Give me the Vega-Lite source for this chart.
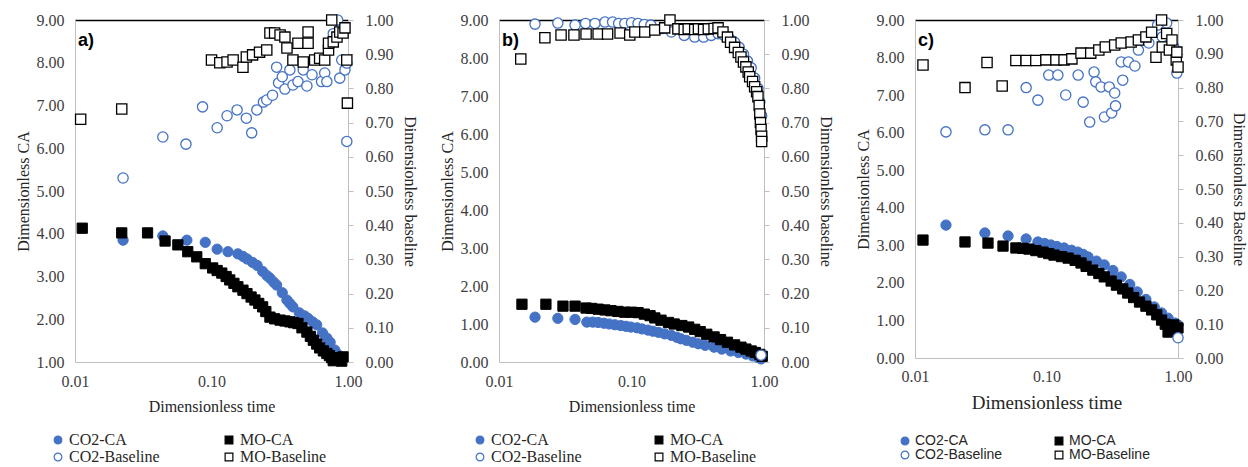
{
  "$schema": "https://vega.github.io/schema/vega-lite/v6.json",
  "background": "white",
  "padding": {"left": 15, "top": 12, "right": 2, "bottom": 0},
  "spacing": 22,
  "datasets": {
    "pts": [
      {"panel":"a","series":"CO2-CA","t":0.0225,"v":3.85},{"panel":"a","series":"CO2-CA","t":0.044,"v":3.95},{"panel":"a","series":"CO2-CA","t":0.066,"v":3.85},{"panel":"a","series":"CO2-CA","t":0.09,"v":3.8},{"panel":"a","series":"CO2-CA","t":0.11,"v":3.64},{"panel":"a","series":"CO2-CA","t":0.132,"v":3.58},{"panel":"a","series":"CO2-CA","t":0.156,"v":3.53},{"panel":"a","series":"CO2-CA","t":0.17,"v":3.47},{"panel":"a","series":"CO2-CA","t":0.182,"v":3.41},{"panel":"a","series":"CO2-CA","t":0.2,"v":3.33},{"panel":"a","series":"CO2-CA","t":0.216,"v":3.26},{"panel":"a","series":"CO2-CA","t":0.237,"v":3.12},{"panel":"a","series":"CO2-CA","t":0.255,"v":3.02},{"panel":"a","series":"CO2-CA","t":0.268,"v":2.96},{"panel":"a","series":"CO2-CA","t":0.285,"v":2.87},{"panel":"a","series":"CO2-CA","t":0.3,"v":2.8},{"panel":"a","series":"CO2-CA","t":0.33,"v":2.62},{"panel":"a","series":"CO2-CA","t":0.357,"v":2.45},{"panel":"a","series":"CO2-CA","t":0.375,"v":2.37},{"panel":"a","series":"CO2-CA","t":0.395,"v":2.29},{"panel":"a","series":"CO2-CA","t":0.44,"v":2.15},{"panel":"a","series":"CO2-CA","t":0.48,"v":2.08},{"panel":"a","series":"CO2-CA","t":0.51,"v":2.02},{"panel":"a","series":"CO2-CA","t":0.55,"v":1.94},{"panel":"a","series":"CO2-CA","t":0.59,"v":1.87},{"panel":"a","series":"CO2-CA","t":0.65,"v":1.68},{"panel":"a","series":"CO2-CA","t":0.7,"v":1.56},{"panel":"a","series":"CO2-CA","t":0.74,"v":1.46},{"panel":"a","series":"CO2-CA","t":0.8,"v":1.28},{"panel":"a","series":"CO2-CA","t":0.84,"v":1.18},{"panel":"a","series":"CO2-CA","t":0.87,"v":1.12},{"panel":"a","series":"CO2-CA","t":0.9,"v":1.06},
      {"panel":"a","series":"MO-CA","t":0.0113,"v":4.13},{"panel":"a","series":"MO-CA","t":0.022,"v":4.02},{"panel":"a","series":"MO-CA","t":0.034,"v":4.02},{"panel":"a","series":"MO-CA","t":0.0457,"v":3.83},{"panel":"a","series":"MO-CA","t":0.0567,"v":3.74},{"panel":"a","series":"MO-CA","t":0.067,"v":3.58},{"panel":"a","series":"MO-CA","t":0.078,"v":3.46},{"panel":"a","series":"MO-CA","t":0.09,"v":3.3},{"panel":"a","series":"MO-CA","t":0.102,"v":3.2},{"panel":"a","series":"MO-CA","t":0.11,"v":3.14},{"panel":"a","series":"MO-CA","t":0.119,"v":3.08},{"panel":"a","series":"MO-CA","t":0.128,"v":3.0},{"panel":"a","series":"MO-CA","t":0.136,"v":2.92},{"panel":"a","series":"MO-CA","t":0.146,"v":2.84},{"panel":"a","series":"MO-CA","t":0.156,"v":2.76},{"panel":"a","series":"MO-CA","t":0.17,"v":2.68},{"panel":"a","series":"MO-CA","t":0.182,"v":2.6},{"panel":"a","series":"MO-CA","t":0.195,"v":2.52},{"panel":"a","series":"MO-CA","t":0.208,"v":2.45},{"panel":"a","series":"MO-CA","t":0.222,"v":2.37},{"panel":"a","series":"MO-CA","t":0.237,"v":2.29},{"panel":"a","series":"MO-CA","t":0.25,"v":2.18},{"panel":"a","series":"MO-CA","t":0.268,"v":2.05},{"panel":"a","series":"MO-CA","t":0.29,"v":2.01},{"panel":"a","series":"MO-CA","t":0.318,"v":1.98},{"panel":"a","series":"MO-CA","t":0.345,"v":1.96},{"panel":"a","series":"MO-CA","t":0.375,"v":1.94},{"panel":"a","series":"MO-CA","t":0.4,"v":1.92},{"panel":"a","series":"MO-CA","t":0.43,"v":1.9},{"panel":"a","series":"MO-CA","t":0.46,"v":1.8},{"panel":"a","series":"MO-CA","t":0.5,"v":1.7},{"panel":"a","series":"MO-CA","t":0.53,"v":1.6},{"panel":"a","series":"MO-CA","t":0.557,"v":1.51},{"panel":"a","series":"MO-CA","t":0.59,"v":1.42},{"panel":"a","series":"MO-CA","t":0.62,"v":1.33},{"panel":"a","series":"MO-CA","t":0.66,"v":1.26},{"panel":"a","series":"MO-CA","t":0.7,"v":1.2},{"panel":"a","series":"MO-CA","t":0.73,"v":1.15},{"panel":"a","series":"MO-CA","t":0.76,"v":1.1},{"panel":"a","series":"MO-CA","t":0.78,"v":1.03},{"panel":"a","series":"MO-CA","t":0.8,"v":1.08},{"panel":"a","series":"MO-CA","t":0.83,"v":1.1},{"panel":"a","series":"MO-CA","t":0.87,"v":1.07},{"panel":"a","series":"MO-CA","t":0.9,"v":1.02},{"panel":"a","series":"MO-CA","t":0.92,"v":1.12},
      {"panel":"a","series":"CO2-Baseline","t":0.0225,"v":0.538},{"panel":"a","series":"CO2-Baseline","t":0.044,"v":0.658},{"panel":"a","series":"CO2-Baseline","t":0.065,"v":0.637},{"panel":"a","series":"CO2-Baseline","t":0.086,"v":0.746},{"panel":"a","series":"CO2-Baseline","t":0.11,"v":0.685},{"panel":"a","series":"CO2-Baseline","t":0.13,"v":0.72},{"panel":"a","series":"CO2-Baseline","t":0.154,"v":0.737},{"panel":"a","series":"CO2-Baseline","t":0.18,"v":0.713},{"panel":"a","series":"CO2-Baseline","t":0.197,"v":0.67},{"panel":"a","series":"CO2-Baseline","t":0.215,"v":0.737},{"panel":"a","series":"CO2-Baseline","t":0.24,"v":0.76},{"panel":"a","series":"CO2-Baseline","t":0.254,"v":0.766},{"panel":"a","series":"CO2-Baseline","t":0.28,"v":0.78},{"panel":"a","series":"CO2-Baseline","t":0.3,"v":0.862},{"panel":"a","series":"CO2-Baseline","t":0.31,"v":0.816},{"panel":"a","series":"CO2-Baseline","t":0.33,"v":0.834},{"panel":"a","series":"CO2-Baseline","t":0.345,"v":0.798},{"panel":"a","series":"CO2-Baseline","t":0.375,"v":0.854},{"panel":"a","series":"CO2-Baseline","t":0.395,"v":0.81},{"panel":"a","series":"CO2-Baseline","t":0.43,"v":0.82},{"panel":"a","series":"CO2-Baseline","t":0.47,"v":0.854},{"panel":"a","series":"CO2-Baseline","t":0.5,"v":0.807},{"panel":"a","series":"CO2-Baseline","t":0.545,"v":0.84},{"panel":"a","series":"CO2-Baseline","t":0.64,"v":0.82},{"panel":"a","series":"CO2-Baseline","t":0.675,"v":0.845},{"panel":"a","series":"CO2-Baseline","t":0.7,"v":0.82},{"panel":"a","series":"CO2-Baseline","t":0.78,"v":0.96},{"panel":"a","series":"CO2-Baseline","t":0.84,"v":1.0},{"panel":"a","series":"CO2-Baseline","t":0.87,"v":0.97},{"panel":"a","series":"CO2-Baseline","t":0.87,"v":0.83},{"panel":"a","series":"CO2-Baseline","t":0.9,"v":0.883},{"panel":"a","series":"CO2-Baseline","t":0.95,"v":0.854},{"panel":"a","series":"CO2-Baseline","t":0.98,"v":0.874},{"panel":"a","series":"CO2-Baseline","t":0.98,"v":0.645},
      {"panel":"a","series":"MO-Baseline","t":0.011,"v":0.71},{"panel":"a","series":"MO-Baseline","t":0.022,"v":0.74},{"panel":"a","series":"MO-Baseline","t":0.1,"v":0.883},{"panel":"a","series":"MO-Baseline","t":0.115,"v":0.875},{"panel":"a","series":"MO-Baseline","t":0.13,"v":0.877},{"panel":"a","series":"MO-Baseline","t":0.144,"v":0.883},{"panel":"a","series":"MO-Baseline","t":0.17,"v":0.862},{"panel":"a","series":"MO-Baseline","t":0.18,"v":0.892},{"panel":"a","series":"MO-Baseline","t":0.2,"v":0.898},{"panel":"a","series":"MO-Baseline","t":0.225,"v":0.906},{"panel":"a","series":"MO-Baseline","t":0.254,"v":0.912},{"panel":"a","series":"MO-Baseline","t":0.268,"v":0.962},{"panel":"a","series":"MO-Baseline","t":0.29,"v":0.962},{"panel":"a","series":"MO-Baseline","t":0.318,"v":0.956},{"panel":"a","series":"MO-Baseline","t":0.345,"v":0.95},{"panel":"a","series":"MO-Baseline","t":0.357,"v":0.918},{"panel":"a","series":"MO-Baseline","t":0.395,"v":0.883},{"panel":"a","series":"MO-Baseline","t":0.43,"v":0.932},{"panel":"a","series":"MO-Baseline","t":0.47,"v":0.877},{"panel":"a","series":"MO-Baseline","t":0.51,"v":0.965},{"panel":"a","series":"MO-Baseline","t":0.51,"v":0.932},{"panel":"a","series":"MO-Baseline","t":0.57,"v":0.883},{"panel":"a","series":"MO-Baseline","t":0.62,"v":0.888},{"panel":"a","series":"MO-Baseline","t":0.675,"v":0.883},{"panel":"a","series":"MO-Baseline","t":0.72,"v":0.912},{"panel":"a","series":"MO-Baseline","t":0.72,"v":0.932},{"panel":"a","series":"MO-Baseline","t":0.76,"v":1.0},{"panel":"a","series":"MO-Baseline","t":0.78,"v":0.936},{"panel":"a","series":"MO-Baseline","t":0.83,"v":0.95},{"panel":"a","series":"MO-Baseline","t":0.87,"v":0.965},{"panel":"a","series":"MO-Baseline","t":0.92,"v":0.962},{"panel":"a","series":"MO-Baseline","t":0.95,"v":0.977},{"panel":"a","series":"MO-Baseline","t":0.98,"v":0.883},{"panel":"a","series":"MO-Baseline","t":0.99,"v":0.757},

      {"panel":"b","series":"CO2-CA","t":0.0187,"v":1.18},{"panel":"b","series":"CO2-CA","t":0.0278,"v":1.15},{"panel":"b","series":"CO2-CA","t":0.0375,"v":1.12},{"panel":"b","series":"CO2-CA","t":0.046,"v":1.05},{"panel":"b","series":"CO2-CA","t":0.051,"v":1.05},{"panel":"b","series":"CO2-CA","t":0.056,"v":1.04},{"panel":"b","series":"CO2-CA","t":0.062,"v":1.02},{"panel":"b","series":"CO2-CA","t":0.068,"v":1.0},{"panel":"b","series":"CO2-CA","t":0.075,"v":0.98},{"panel":"b","series":"CO2-CA","t":0.083,"v":0.96},{"panel":"b","series":"CO2-CA","t":0.091,"v":0.94},{"panel":"b","series":"CO2-CA","t":0.099,"v":0.92},{"panel":"b","series":"CO2-CA","t":0.11,"v":0.9},{"panel":"b","series":"CO2-CA","t":0.12,"v":0.87},{"panel":"b","series":"CO2-CA","t":0.133,"v":0.84},{"panel":"b","series":"CO2-CA","t":0.145,"v":0.81},{"panel":"b","series":"CO2-CA","t":0.16,"v":0.78},{"panel":"b","series":"CO2-CA","t":0.178,"v":0.74},{"panel":"b","series":"CO2-CA","t":0.2,"v":0.7},{"panel":"b","series":"CO2-CA","t":0.22,"v":0.65},{"panel":"b","series":"CO2-CA","t":0.236,"v":0.61},{"panel":"b","series":"CO2-CA","t":0.26,"v":0.57},{"panel":"b","series":"CO2-CA","t":0.29,"v":0.52},{"panel":"b","series":"CO2-CA","t":0.32,"v":0.48},{"panel":"b","series":"CO2-CA","t":0.36,"v":0.44},{"panel":"b","series":"CO2-CA","t":0.42,"v":0.39},{"panel":"b","series":"CO2-CA","t":0.48,"v":0.34},{"panel":"b","series":"CO2-CA","t":0.56,"v":0.29},{"panel":"b","series":"CO2-CA","t":0.64,"v":0.25},{"panel":"b","series":"CO2-CA","t":0.73,"v":0.21},{"panel":"b","series":"CO2-CA","t":0.82,"v":0.16},{"panel":"b","series":"CO2-CA","t":0.9,"v":0.12},{"panel":"b","series":"CO2-CA","t":0.95,"v":0.08},
      {"panel":"b","series":"MO-CA","t":0.0149,"v":1.52},{"panel":"b","series":"MO-CA","t":0.0226,"v":1.52},{"panel":"b","series":"MO-CA","t":0.0304,"v":1.47},{"panel":"b","series":"MO-CA","t":0.0375,"v":1.47},{"panel":"b","series":"MO-CA","t":0.0454,"v":1.42},{"panel":"b","series":"MO-CA","t":0.05,"v":1.41},{"panel":"b","series":"MO-CA","t":0.056,"v":1.39},{"panel":"b","series":"MO-CA","t":0.063,"v":1.37},{"panel":"b","series":"MO-CA","t":0.07,"v":1.35},{"panel":"b","series":"MO-CA","t":0.079,"v":1.33},{"panel":"b","series":"MO-CA","t":0.089,"v":1.31},{"panel":"b","series":"MO-CA","t":0.1,"v":1.31},{"panel":"b","series":"MO-CA","t":0.112,"v":1.3},{"panel":"b","series":"MO-CA","t":0.125,"v":1.26},{"panel":"b","series":"MO-CA","t":0.138,"v":1.22},{"panel":"b","series":"MO-CA","t":0.15,"v":1.16},{"panel":"b","series":"MO-CA","t":0.167,"v":1.1},{"panel":"b","series":"MO-CA","t":0.19,"v":1.04},{"panel":"b","series":"MO-CA","t":0.21,"v":1.0},{"panel":"b","series":"MO-CA","t":0.24,"v":0.96},{"panel":"b","series":"MO-CA","t":0.27,"v":0.92},{"panel":"b","series":"MO-CA","t":0.3,"v":0.86},{"panel":"b","series":"MO-CA","t":0.33,"v":0.8},{"panel":"b","series":"MO-CA","t":0.37,"v":0.73},{"panel":"b","series":"MO-CA","t":0.42,"v":0.66},{"panel":"b","series":"MO-CA","t":0.47,"v":0.59},{"panel":"b","series":"MO-CA","t":0.53,"v":0.52},{"panel":"b","series":"MO-CA","t":0.6,"v":0.45},{"panel":"b","series":"MO-CA","t":0.67,"v":0.39},{"panel":"b","series":"MO-CA","t":0.73,"v":0.34},{"panel":"b","series":"MO-CA","t":0.8,"v":0.29},{"panel":"b","series":"MO-CA","t":0.86,"v":0.25},{"panel":"b","series":"MO-CA","t":0.93,"v":0.2},{"panel":"b","series":"MO-CA","t":0.97,"v":0.15},
      {"panel":"b","series":"CO2-Baseline","t":0.0187,"v":0.988},{"panel":"b","series":"CO2-Baseline","t":0.0278,"v":0.991},{"panel":"b","series":"CO2-Baseline","t":0.0375,"v":0.985},{"panel":"b","series":"CO2-Baseline","t":0.045,"v":0.99},{"panel":"b","series":"CO2-Baseline","t":0.053,"v":0.99},{"panel":"b","series":"CO2-Baseline","t":0.063,"v":0.994},{"panel":"b","series":"CO2-Baseline","t":0.072,"v":0.994},{"panel":"b","series":"CO2-Baseline","t":0.08,"v":0.99},{"panel":"b","series":"CO2-Baseline","t":0.089,"v":0.99},{"panel":"b","series":"CO2-Baseline","t":0.1,"v":0.992},{"panel":"b","series":"CO2-Baseline","t":0.112,"v":0.99},{"panel":"b","series":"CO2-Baseline","t":0.125,"v":0.987},{"panel":"b","series":"CO2-Baseline","t":0.14,"v":0.985},{"panel":"b","series":"CO2-Baseline","t":0.17,"v":0.975},{"panel":"b","series":"CO2-Baseline","t":0.2,"v":0.965},{"panel":"b","series":"CO2-Baseline","t":0.25,"v":0.955},{"panel":"b","series":"CO2-Baseline","t":0.3,"v":0.95},{"panel":"b","series":"CO2-Baseline","t":0.35,"v":0.95},{"panel":"b","series":"CO2-Baseline","t":0.4,"v":0.955},{"panel":"b","series":"CO2-Baseline","t":0.45,"v":0.96},{"panel":"b","series":"CO2-Baseline","t":0.5,"v":0.955},{"panel":"b","series":"CO2-Baseline","t":0.55,"v":0.945},{"panel":"b","series":"CO2-Baseline","t":0.6,"v":0.935},{"panel":"b","series":"CO2-Baseline","t":0.65,"v":0.92},{"panel":"b","series":"CO2-Baseline","t":0.7,"v":0.9},{"panel":"b","series":"CO2-Baseline","t":0.75,"v":0.88},{"panel":"b","series":"CO2-Baseline","t":0.8,"v":0.86},{"panel":"b","series":"CO2-Baseline","t":0.85,"v":0.83},{"panel":"b","series":"CO2-Baseline","t":0.9,"v":0.8},{"panel":"b","series":"CO2-Baseline","t":0.93,"v":0.76},{"panel":"b","series":"CO2-Baseline","t":0.96,"v":0.72},{"panel":"b","series":"CO2-Baseline","t":0.95,"v":0.02},
      {"panel":"b","series":"MO-Baseline","t":0.0146,"v":0.886},{"panel":"b","series":"MO-Baseline","t":0.0222,"v":0.948},{"panel":"b","series":"MO-Baseline","t":0.0294,"v":0.956},{"panel":"b","series":"MO-Baseline","t":0.0368,"v":0.956},{"panel":"b","series":"MO-Baseline","t":0.0454,"v":0.959},{"panel":"b","series":"MO-Baseline","t":0.056,"v":0.959},{"panel":"b","series":"MO-Baseline","t":0.066,"v":0.959},{"panel":"b","series":"MO-Baseline","t":0.082,"v":0.962},{"panel":"b","series":"MO-Baseline","t":0.097,"v":0.956},{"panel":"b","series":"MO-Baseline","t":0.106,"v":0.965},{"panel":"b","series":"MO-Baseline","t":0.126,"v":0.965},{"panel":"b","series":"MO-Baseline","t":0.15,"v":0.971},{"panel":"b","series":"MO-Baseline","t":0.178,"v":0.977},{"panel":"b","series":"MO-Baseline","t":0.195,"v":1.0},{"panel":"b","series":"MO-Baseline","t":0.224,"v":0.974},{"panel":"b","series":"MO-Baseline","t":0.25,"v":0.972},{"panel":"b","series":"MO-Baseline","t":0.268,"v":0.974},{"panel":"b","series":"MO-Baseline","t":0.3,"v":0.972},{"panel":"b","series":"MO-Baseline","t":0.32,"v":0.974},{"panel":"b","series":"MO-Baseline","t":0.35,"v":0.972},{"panel":"b","series":"MO-Baseline","t":0.38,"v":0.974},{"panel":"b","series":"MO-Baseline","t":0.42,"v":0.975},{"panel":"b","series":"MO-Baseline","t":0.45,"v":0.977},{"panel":"b","series":"MO-Baseline","t":0.49,"v":0.965},{"panel":"b","series":"MO-Baseline","t":0.53,"v":0.95},{"panel":"b","series":"MO-Baseline","t":0.56,"v":0.935},{"panel":"b","series":"MO-Baseline","t":0.6,"v":0.92},{"panel":"b","series":"MO-Baseline","t":0.64,"v":0.905},{"panel":"b","series":"MO-Baseline","t":0.67,"v":0.892},{"panel":"b","series":"MO-Baseline","t":0.7,"v":0.877},{"panel":"b","series":"MO-Baseline","t":0.73,"v":0.863},{"panel":"b","series":"MO-Baseline","t":0.76,"v":0.848},{"panel":"b","series":"MO-Baseline","t":0.78,"v":0.834},{"panel":"b","series":"MO-Baseline","t":0.82,"v":0.82},{"panel":"b","series":"MO-Baseline","t":0.85,"v":0.805},{"panel":"b","series":"MO-Baseline","t":0.88,"v":0.79},{"panel":"b","series":"MO-Baseline","t":0.9,"v":0.776},{"panel":"b","series":"MO-Baseline","t":0.92,"v":0.75},{"panel":"b","series":"MO-Baseline","t":0.93,"v":0.725},{"panel":"b","series":"MO-Baseline","t":0.94,"v":0.7},{"panel":"b","series":"MO-Baseline","t":0.95,"v":0.68},{"panel":"b","series":"MO-Baseline","t":0.96,"v":0.66},{"panel":"b","series":"MO-Baseline","t":0.96,"v":0.645},

      {"panel":"c","series":"CO2-CA","t":0.0172,"v":3.54},{"panel":"c","series":"CO2-CA","t":0.034,"v":3.33},{"panel":"c","series":"CO2-CA","t":0.051,"v":3.25},{"panel":"c","series":"CO2-CA","t":0.07,"v":3.17},{"panel":"c","series":"CO2-CA","t":0.086,"v":3.09},{"panel":"c","series":"CO2-CA","t":0.097,"v":3.05},{"panel":"c","series":"CO2-CA","t":0.108,"v":3.01},{"panel":"c","series":"CO2-CA","t":0.12,"v":2.97},{"panel":"c","series":"CO2-CA","t":0.136,"v":2.93},{"panel":"c","series":"CO2-CA","t":0.155,"v":2.87},{"panel":"c","series":"CO2-CA","t":0.173,"v":2.82},{"panel":"c","series":"CO2-CA","t":0.19,"v":2.76},{"panel":"c","series":"CO2-CA","t":0.207,"v":2.69},{"panel":"c","series":"CO2-CA","t":0.24,"v":2.58},{"panel":"c","series":"CO2-CA","t":0.275,"v":2.48},{"panel":"c","series":"CO2-CA","t":0.32,"v":2.33},{"panel":"c","series":"CO2-CA","t":0.37,"v":2.16},{"panel":"c","series":"CO2-CA","t":0.43,"v":1.96},{"panel":"c","series":"CO2-CA","t":0.49,"v":1.76},{"panel":"c","series":"CO2-CA","t":0.57,"v":1.56},{"panel":"c","series":"CO2-CA","t":0.66,"v":1.36},{"panel":"c","series":"CO2-CA","t":0.75,"v":1.2},{"panel":"c","series":"CO2-CA","t":0.84,"v":1.06},{"panel":"c","series":"CO2-CA","t":0.95,"v":0.93},{"panel":"c","series":"CO2-CA","t":1.0,"v":0.88},
      {"panel":"c","series":"MO-CA","t":0.0115,"v":3.14},{"panel":"c","series":"MO-CA","t":0.024,"v":3.09},{"panel":"c","series":"MO-CA","t":0.0359,"v":3.06},{"panel":"c","series":"MO-CA","t":0.0467,"v":2.98},{"panel":"c","series":"MO-CA","t":0.0585,"v":2.93},{"panel":"c","series":"MO-CA","t":0.066,"v":2.92},{"panel":"c","series":"MO-CA","t":0.0735,"v":2.9},{"panel":"c","series":"MO-CA","t":0.083,"v":2.86},{"panel":"c","series":"MO-CA","t":0.094,"v":2.82},{"panel":"c","series":"MO-CA","t":0.104,"v":2.78},{"panel":"c","series":"MO-CA","t":0.114,"v":2.74},{"panel":"c","series":"MO-CA","t":0.13,"v":2.7},{"panel":"c","series":"MO-CA","t":0.146,"v":2.66},{"panel":"c","series":"MO-CA","t":0.165,"v":2.6},{"panel":"c","series":"MO-CA","t":0.183,"v":2.53},{"panel":"c","series":"MO-CA","t":0.2,"v":2.44},{"panel":"c","series":"MO-CA","t":0.225,"v":2.34},{"panel":"c","series":"MO-CA","t":0.25,"v":2.25},{"panel":"c","series":"MO-CA","t":0.275,"v":2.16},{"panel":"c","series":"MO-CA","t":0.31,"v":2.05},{"panel":"c","series":"MO-CA","t":0.34,"v":1.94},{"panel":"c","series":"MO-CA","t":0.38,"v":1.84},{"panel":"c","series":"MO-CA","t":0.415,"v":1.73},{"panel":"c","series":"MO-CA","t":0.46,"v":1.61},{"panel":"c","series":"MO-CA","t":0.51,"v":1.49},{"panel":"c","series":"MO-CA","t":0.57,"v":1.38},{"panel":"c","series":"MO-CA","t":0.63,"v":1.28},{"panel":"c","series":"MO-CA","t":0.69,"v":1.15},{"panel":"c","series":"MO-CA","t":0.75,"v":1.01},{"panel":"c","series":"MO-CA","t":0.8,"v":0.9},{"panel":"c","series":"MO-CA","t":0.84,"v":0.69},{"panel":"c","series":"MO-CA","t":0.88,"v":0.75},{"panel":"c","series":"MO-CA","t":0.93,"v":0.88},{"panel":"c","series":"MO-CA","t":0.97,"v":0.75},{"panel":"c","series":"MO-CA","t":1.0,"v":0.8},
      {"panel":"c","series":"CO2-Baseline","t":0.0172,"v":0.669},{"panel":"c","series":"CO2-Baseline","t":0.034,"v":0.675},{"panel":"c","series":"CO2-Baseline","t":0.051,"v":0.675},{"panel":"c","series":"CO2-Baseline","t":0.07,"v":0.8},{"panel":"c","series":"CO2-Baseline","t":0.086,"v":0.763},{"panel":"c","series":"CO2-Baseline","t":0.104,"v":0.837},{"panel":"c","series":"CO2-Baseline","t":0.122,"v":0.837},{"panel":"c","series":"CO2-Baseline","t":0.14,"v":0.778},{"panel":"c","series":"CO2-Baseline","t":0.174,"v":0.837},{"panel":"c","series":"CO2-Baseline","t":0.19,"v":0.757},{"panel":"c","series":"CO2-Baseline","t":0.213,"v":0.698},{"panel":"c","series":"CO2-Baseline","t":0.23,"v":0.846},{"panel":"c","series":"CO2-Baseline","t":0.237,"v":0.817},{"panel":"c","series":"CO2-Baseline","t":0.26,"v":0.802},{"panel":"c","series":"CO2-Baseline","t":0.276,"v":0.713},{"panel":"c","series":"CO2-Baseline","t":0.3,"v":0.802},{"panel":"c","series":"CO2-Baseline","t":0.313,"v":0.725},{"panel":"c","series":"CO2-Baseline","t":0.33,"v":0.784},{"panel":"c","series":"CO2-Baseline","t":0.335,"v":0.746},{"panel":"c","series":"CO2-Baseline","t":0.37,"v":0.876},{"panel":"c","series":"CO2-Baseline","t":0.38,"v":0.822},{"panel":"c","series":"CO2-Baseline","t":0.42,"v":0.876},{"panel":"c","series":"CO2-Baseline","t":0.47,"v":0.864},{"panel":"c","series":"CO2-Baseline","t":0.5,"v":0.911},{"panel":"c","series":"CO2-Baseline","t":0.6,"v":0.932},{"panel":"c","series":"CO2-Baseline","t":0.7,"v":0.985},{"panel":"c","series":"CO2-Baseline","t":0.76,"v":0.95},{"panel":"c","series":"CO2-Baseline","t":0.82,"v":0.991},{"panel":"c","series":"CO2-Baseline","t":0.93,"v":0.92},{"panel":"c","series":"CO2-Baseline","t":0.98,"v":0.843},{"panel":"c","series":"CO2-Baseline","t":1.0,"v":0.06},
      {"panel":"c","series":"MO-Baseline","t":0.0115,"v":0.867},{"panel":"c","series":"MO-Baseline","t":0.024,"v":0.8},{"panel":"c","series":"MO-Baseline","t":0.0353,"v":0.874},{"panel":"c","series":"MO-Baseline","t":0.046,"v":0.805},{"panel":"c","series":"MO-Baseline","t":0.0585,"v":0.88},{"panel":"c","series":"MO-Baseline","t":0.07,"v":0.88},{"panel":"c","series":"MO-Baseline","t":0.083,"v":0.88},{"panel":"c","series":"MO-Baseline","t":0.099,"v":0.882},{"panel":"c","series":"MO-Baseline","t":0.118,"v":0.882},{"panel":"c","series":"MO-Baseline","t":0.136,"v":0.882},{"panel":"c","series":"MO-Baseline","t":0.156,"v":0.885},{"panel":"c","series":"MO-Baseline","t":0.183,"v":0.902},{"panel":"c","series":"MO-Baseline","t":0.217,"v":0.902},{"panel":"c","series":"MO-Baseline","t":0.25,"v":0.911},{"panel":"c","series":"MO-Baseline","t":0.28,"v":0.92},{"panel":"c","series":"MO-Baseline","t":0.33,"v":0.926},{"panel":"c","series":"MO-Baseline","t":0.37,"v":0.932},{"panel":"c","series":"MO-Baseline","t":0.44,"v":0.935},{"panel":"c","series":"MO-Baseline","t":0.5,"v":0.941},{"panel":"c","series":"MO-Baseline","t":0.57,"v":0.95},{"panel":"c","series":"MO-Baseline","t":0.63,"v":0.964},{"panel":"c","series":"MO-Baseline","t":0.68,"v":0.89},{"panel":"c","series":"MO-Baseline","t":0.75,"v":1.0},{"panel":"c","series":"MO-Baseline","t":0.76,"v":0.92},{"panel":"c","series":"MO-Baseline","t":0.82,"v":0.96},{"panel":"c","series":"MO-Baseline","t":0.86,"v":0.911},{"panel":"c","series":"MO-Baseline","t":0.9,"v":0.941},{"panel":"c","series":"MO-Baseline","t":0.97,"v":0.882},{"panel":"c","series":"MO-Baseline","t":0.98,"v":0.905},{"panel":"c","series":"MO-Baseline","t":1.0,"v":0.861}
    ]
  },
  "data": {"name": "pts"},
  "hconcat": [
    {
      "width": 273, "height": 342,
      "title": {"text": "a)", "anchor": "start", "frame": "group", "font": "Liberation Sans", "fontSize": 18, "fontWeight": "bold", "color": "black", "dx": 3, "dy": 38, "offset": 0},
      "transform": [{"filter": "datum.panel === 'a'"}],
      "layer": [
        {
          "transform": [{"filter": "datum.series === 'CO2-CA' || datum.series === 'MO-CA'"}],
          "mark": {"type": "point", "size": 105, "strokeWidth": 1, "opacity": 1},
          "encoding": {
            "x": {"field": "t", "type": "quantitative", "scale": {"type": "log", "domain": [0.01, 1], "nice": false}, "axis": {"title": "Dimensionless time", "values": [0.01, 0.1, 1], "format": ".2f", "ticks": false, "labelPadding": 11, "titlePadding": 9, "labelFlush": false}},
            "y": {"field": "v", "type": "quantitative", "scale": {"domain": [1, 9], "nice": false, "zero": false}, "axis": {"title": "Dimensionless CA", "values": [1,2,3,4,5,6,7,8,9], "format": ".2f", "ticks": false, "labelPadding": 11, "titlePadding": 5, "grid": true, "gridColor": {"condition": {"test": "datum.value >= 9", "value": "black"}, "value": "transparent"}, "gridWidth": 1.5}},
            "fill": {"field": "series", "type": "nominal", "scale": {"domain": ["CO2-CA", "MO-CA", "CO2-Baseline", "MO-Baseline"], "range": ["#4472C4", "#000000", "#ffffff", "#ffffff"]}, "legend": {"title": null, "orient": "none", "legendX": -25, "legendY": 412, "direction": "horizontal", "columns": 2, "columnPadding": 61, "rowPadding": 1, "symbolSize": 60, "symbolStrokeWidth": 1.2, "labelFont": "Liberation Serif", "labelFontSize": 16, "labelColor": "#262626", "labelOffset": 3}},
            "stroke": {"field": "series", "type": "nominal", "scale": {"domain": ["CO2-CA", "MO-CA", "CO2-Baseline", "MO-Baseline"], "range": ["#4472C4", "#000000", "#4472C4", "#000000"]}},
            "shape": {"field": "series", "type": "nominal", "scale": {"domain": ["CO2-CA", "MO-CA", "CO2-Baseline", "MO-Baseline"], "range": ["circle", "square", "circle", "square"]}}
          }
        },
        {
          "transform": [{"filter": "datum.series === 'CO2-Baseline' || datum.series === 'MO-Baseline'"}],
          "mark": {"type": "point", "size": 105, "strokeWidth": 1.3, "opacity": 1},
          "encoding": {
            "x": {"field": "t", "type": "quantitative", "scale": {"type": "log", "domain": [0.01, 1], "nice": false}},
            "y": {"field": "v", "type": "quantitative", "scale": {"domain": [0, 1], "nice": false}, "axis": {"orient": "right", "title": "Dimensionless baseline", "values": [0,0.1,0.2,0.3,0.4,0.5,0.6,0.7,0.8,0.9,1], "format": ".2f", "ticks": true, "tickSize": 5, "labelPadding": 12, "titlePadding": 8}},
            "fill": {"field": "series", "type": "nominal", "scale": {"domain": ["CO2-CA", "MO-CA", "CO2-Baseline", "MO-Baseline"], "range": ["#4472C4", "#000000", "#ffffff", "#ffffff"]}},
            "stroke": {"field": "series", "type": "nominal", "scale": {"domain": ["CO2-CA", "MO-CA", "CO2-Baseline", "MO-Baseline"], "range": ["#4472C4", "#000000", "#4472C4", "#000000"]}},
            "shape": {"field": "series", "type": "nominal", "scale": {"domain": ["CO2-CA", "MO-CA", "CO2-Baseline", "MO-Baseline"], "range": ["circle", "square", "circle", "square"]}}
          }
        }
      ],
      "resolve": {"scale": {"y": "independent"}}
    },
    {
      "width": 265, "height": 342,
      "title": {"text": "b)", "anchor": "start", "frame": "group", "font": "Liberation Sans", "fontSize": 18, "fontWeight": "bold", "color": "black", "dx": 3, "dy": 38, "offset": 0},
      "transform": [{"filter": "datum.panel === 'b'"}],
      "layer": [
        {
          "transform": [{"filter": "datum.series === 'CO2-CA' || datum.series === 'MO-CA'"}],
          "mark": {"type": "point", "size": 105, "strokeWidth": 1, "opacity": 1},
          "encoding": {
            "x": {"field": "t", "type": "quantitative", "scale": {"type": "log", "domain": [0.01, 1], "nice": false}, "axis": {"title": "Dimensionless time", "values": [0.01, 0.1, 1], "format": ".2f", "ticks": false, "labelPadding": 11, "titlePadding": 9, "labelFlush": false}},
            "y": {"field": "v", "type": "quantitative", "scale": {"domain": [0, 9], "nice": false}, "axis": {"title": "Dimensionless CA", "values": [0,1,2,3,4,5,6,7,8,9], "format": ".2f", "ticks": false, "labelPadding": 11, "titlePadding": 5, "grid": true, "gridColor": {"condition": {"test": "datum.value >= 9", "value": "black"}, "value": "transparent"}, "gridWidth": 1.5}},
            "fill": {"field": "series", "type": "nominal", "scale": {"domain": ["CO2-CA", "MO-CA", "CO2-Baseline", "MO-Baseline"], "range": ["#4472C4", "#000000", "#ffffff", "#ffffff"]}, "legend": {"title": null, "orient": "none", "legendX": -27, "legendY": 412, "direction": "horizontal", "columns": 2, "columnPadding": 69, "rowPadding": 1, "symbolSize": 60, "symbolStrokeWidth": 1.2, "labelFont": "Liberation Serif", "labelFontSize": 16, "labelColor": "#262626", "labelOffset": 3}},
            "stroke": {"field": "series", "type": "nominal", "scale": {"domain": ["CO2-CA", "MO-CA", "CO2-Baseline", "MO-Baseline"], "range": ["#4472C4", "#000000", "#4472C4", "#000000"]}},
            "shape": {"field": "series", "type": "nominal", "scale": {"domain": ["CO2-CA", "MO-CA", "CO2-Baseline", "MO-Baseline"], "range": ["circle", "square", "circle", "square"]}}
          }
        },
        {
          "transform": [{"filter": "datum.series === 'CO2-Baseline' || datum.series === 'MO-Baseline'"}],
          "mark": {"type": "point", "size": 105, "strokeWidth": 1.3, "opacity": 1},
          "encoding": {
            "x": {"field": "t", "type": "quantitative", "scale": {"type": "log", "domain": [0.01, 1], "nice": false}},
            "y": {"field": "v", "type": "quantitative", "scale": {"domain": [0, 1], "nice": false}, "axis": {"orient": "right", "title": "Dimensionless baseline", "values": [0,0.1,0.2,0.3,0.4,0.5,0.6,0.7,0.8,0.9,1], "format": ".2f", "ticks": true, "tickSize": 5, "labelPadding": 12, "titlePadding": 8}},
            "fill": {"field": "series", "type": "nominal", "scale": {"domain": ["CO2-CA", "MO-CA", "CO2-Baseline", "MO-Baseline"], "range": ["#4472C4", "#000000", "#ffffff", "#ffffff"]}},
            "stroke": {"field": "series", "type": "nominal", "scale": {"domain": ["CO2-CA", "MO-CA", "CO2-Baseline", "MO-Baseline"], "range": ["#4472C4", "#000000", "#4472C4", "#000000"]}},
            "shape": {"field": "series", "type": "nominal", "scale": {"domain": ["CO2-CA", "MO-CA", "CO2-Baseline", "MO-Baseline"], "range": ["circle", "square", "circle", "square"]}}
          }
        }
      ],
      "resolve": {"scale": {"y": "independent"}}
    },
    {
      "width": 263, "height": 338,
      "title": {"text": "c)", "anchor": "start", "frame": "group", "font": "Liberation Sans", "fontSize": 18, "fontWeight": "bold", "color": "black", "dx": 3, "dy": 38, "offset": 0},
      "transform": [{"filter": "datum.panel === 'c'"}],
      "layer": [
        {
          "transform": [{"filter": "datum.series === 'CO2-CA' || datum.series === 'MO-CA'"}],
          "mark": {"type": "point", "size": 105, "strokeWidth": 1, "opacity": 1},
          "encoding": {
            "x": {"field": "t", "type": "quantitative", "scale": {"type": "log", "domain": [0.01, 1], "nice": false}, "axis": {"title": "Dimensionless time", "titleFontSize": 19, "values": [0.01, 0.1, 1], "format": ".2f", "ticks": false, "labelPadding": 10, "titlePadding": 9, "labelFlush": false}},
            "y": {"field": "v", "type": "quantitative", "scale": {"domain": [0, 9], "nice": false}, "axis": {"title": "Dimensionless CA", "values": [0,1,2,3,4,5,6,7,8,9], "format": ".2f", "ticks": false, "labelPadding": 11, "titlePadding": 5, "grid": true, "gridColor": {"condition": {"test": "datum.value >= 9", "value": "black"}, "value": "transparent"}, "gridWidth": 1.5}},
            "fill": {"field": "series", "type": "nominal", "scale": {"domain": ["CO2-CA", "MO-CA", "CO2-Baseline", "MO-Baseline"], "range": ["#4472C4", "#000000", "#ffffff", "#ffffff"]}, "legend": {"title": null, "orient": "none", "legendX": -17, "legendY": 414, "direction": "horizontal", "columns": 2, "columnPadding": 49, "rowPadding": 0, "symbolSize": 60, "symbolStrokeWidth": 1.2, "labelFont": "Liberation Sans", "labelFontSize": 14, "labelColor": "#262626", "labelOffset": 3}},
            "stroke": {"field": "series", "type": "nominal", "scale": {"domain": ["CO2-CA", "MO-CA", "CO2-Baseline", "MO-Baseline"], "range": ["#4472C4", "#000000", "#4472C4", "#000000"]}},
            "shape": {"field": "series", "type": "nominal", "scale": {"domain": ["CO2-CA", "MO-CA", "CO2-Baseline", "MO-Baseline"], "range": ["circle", "square", "circle", "square"]}}
          }
        },
        {
          "transform": [{"filter": "datum.series === 'CO2-Baseline' || datum.series === 'MO-Baseline'"}],
          "mark": {"type": "point", "size": 105, "strokeWidth": 1.3, "opacity": 1},
          "encoding": {
            "x": {"field": "t", "type": "quantitative", "scale": {"type": "log", "domain": [0.01, 1], "nice": false}},
            "y": {"field": "v", "type": "quantitative", "scale": {"domain": [0, 1], "nice": false}, "axis": {"orient": "right", "title": "Dimensionless Baseline", "values": [0,0.1,0.2,0.3,0.4,0.5,0.6,0.7,0.8,0.9,1], "format": ".2f", "ticks": true, "tickSize": 5, "labelPadding": 12, "titlePadding": 7}},
            "fill": {"field": "series", "type": "nominal", "scale": {"domain": ["CO2-CA", "MO-CA", "CO2-Baseline", "MO-Baseline"], "range": ["#4472C4", "#000000", "#ffffff", "#ffffff"]}},
            "stroke": {"field": "series", "type": "nominal", "scale": {"domain": ["CO2-CA", "MO-CA", "CO2-Baseline", "MO-Baseline"], "range": ["#4472C4", "#000000", "#4472C4", "#000000"]}},
            "shape": {"field": "series", "type": "nominal", "scale": {"domain": ["CO2-CA", "MO-CA", "CO2-Baseline", "MO-Baseline"], "range": ["circle", "square", "circle", "square"]}}
          }
        }
      ],
      "resolve": {"scale": {"y": "independent"}}
    }
  ],
  "resolve": {"scale": {"fill": "independent", "stroke": "independent", "shape": "independent"}},
  "config": {
    "font": "Liberation Serif",
    "view": {"stroke": null},
    "axis": {"labelFont": "Liberation Serif", "titleFont": "Liberation Serif", "labelFontSize": 16, "titleFontSize": 16, "labelColor": "#404040", "titleColor": "#262626", "titleFontWeight": "normal", "domainColor": "#bfbfbf", "tickColor": "#bfbfbf", "grid": false}
  }
}
